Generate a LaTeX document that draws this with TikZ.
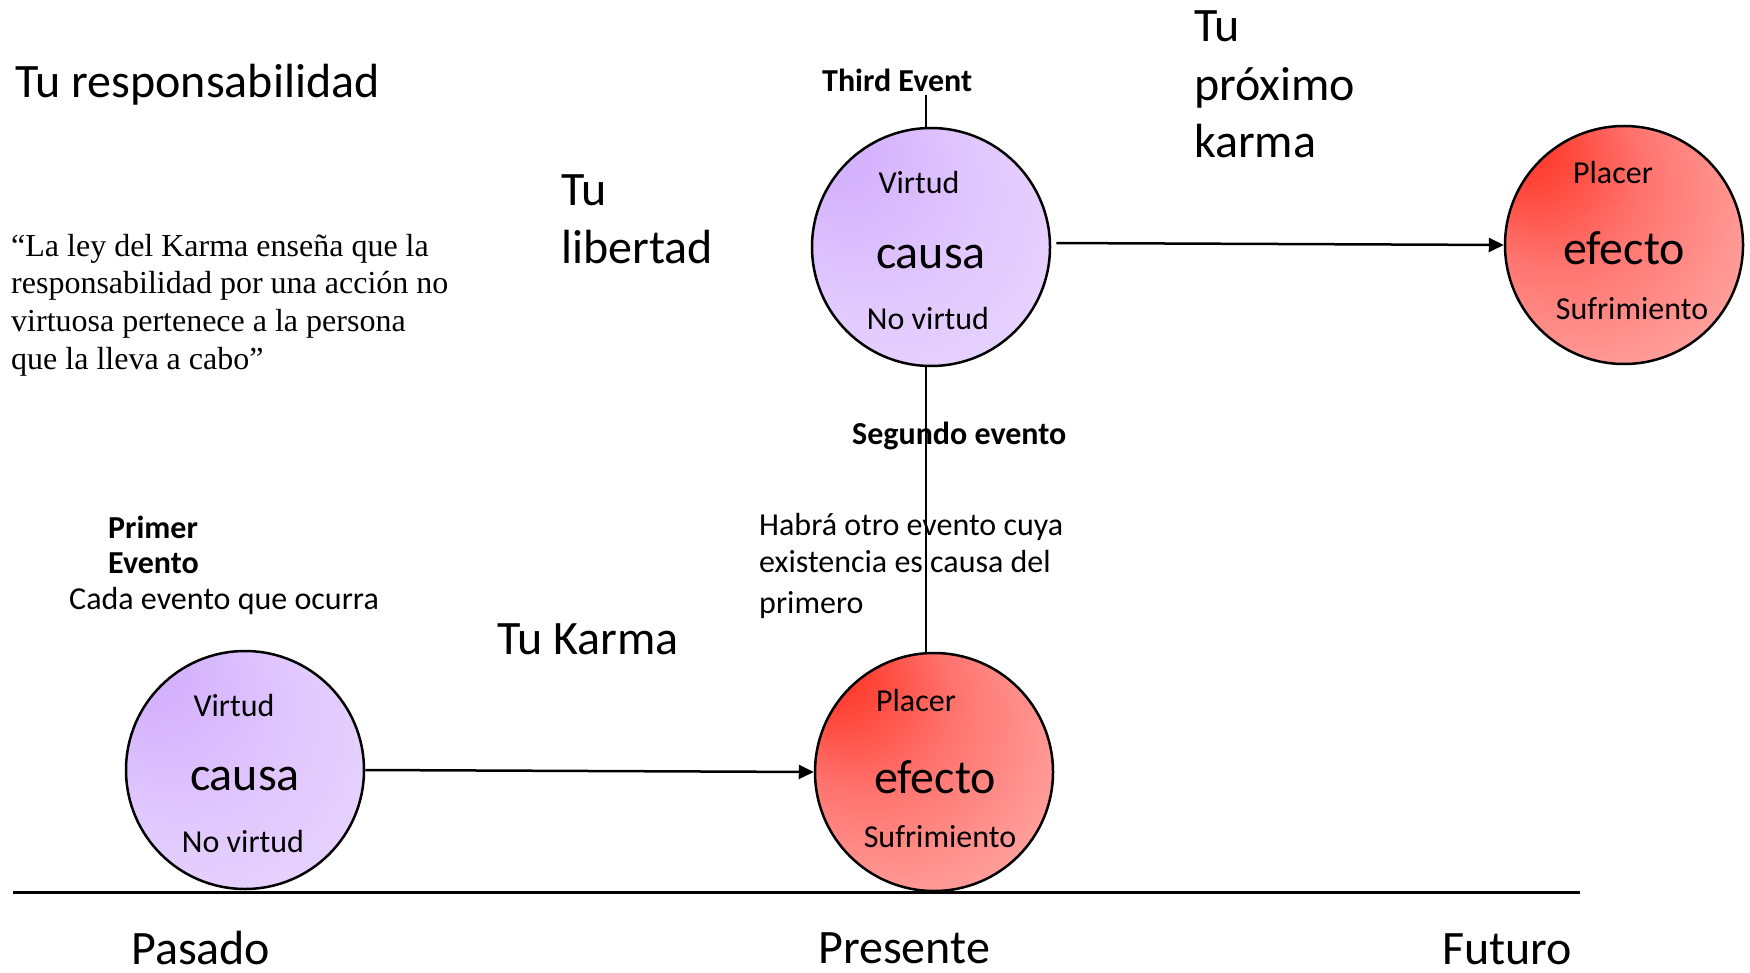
\documentclass[tikz,border=0pt]{standalone}
\usepackage{fontspec}
\setmainfont{Carlito}
\newfontfamily\quotefont{Liberation Serif}
\usetikzlibrary{arrows.meta}
\definecolor{redA}{RGB}{255,40,22}
\definecolor{redB}{RGB}{255,115,110}
\definecolor{redC}{RGB}{255,198,196}
\definecolor{purA}{RGB}{208,170,252}
\definecolor{purB}{RGB}{225,200,254}
\definecolor{purC}{RGB}{238,222,254}
\pgfdeclareradialshading{redball}{\pgfpoint{-24bp}{24bp}}{color(0bp)=(redA); color(19bp)=(redB); color(50bp)=(redC)}
\pgfdeclareradialshading{purball}{\pgfpoint{-24bp}{24bp}}{color(0bp)=(purA); color(24bp)=(purB); color(50bp)=(purC)}
\begin{document}
\begin{tikzpicture}[x=1pt,y=-1pt,
  big/.style={font=\fontsize{48}{58}\selectfont, inner sep=0pt, anchor=base west},
  bigc/.style={font=\fontsize{48}{58}\selectfont, inner sep=0pt, anchor=base},
  small/.style={font=\fontsize{32}{38}\selectfont, inner sep=0pt, anchor=base west},
  smallc/.style={font=\fontsize{32}{38}\selectfont, inner sep=0pt, anchor=base},
  smallb/.style={font=\fontsize{32}{38}\selectfont\bfseries, inner sep=0pt, anchor=base west},
  quote/.style={font=\quotefont\fontsize{32}{38}\selectfont, inner sep=0pt, anchor=base west},
  ball/.style={circle, draw, line width=2.5pt, minimum size=238pt, inner sep=0pt},
  causaball/.style={ball, shading=purball},
  efectoball/.style={ball, shading=redball},
  conn/.style={line width=2.5pt},
  arr/.style={line width=2.5pt, -{Triangle[length=15pt,width=14pt]}}
]
\useasboundingbox (0,0) rectangle (1750,973);

% circles
\node[causaball] (lc) at (245,770) {};
\node[efectoball] (be) at (934,772) {};
\node[causaball] (tc) at (931,247) {};
\node[efectoball] (re) at (1624,245) {};

% circle texts
\node[smallc] (lcv) at (234,716) {Virtud};
\node[bigc] (lcc) at (245,790) {causa};
\node[smallc] (lcn) at (243,852) {No virtud};

\node[smallc] (bep) at (916,711) {Placer};
\node[bigc] (bee) at (935,793) {efecto};
\node[smallc] (bes) at (940,847) {Sufrimiento};

\node[smallc] (tcv) at (919,194) {Virtud};
\node[bigc] (tcc) at (931,269) {causa};
\node[smallc] (tcn) at (928,330) {No virtud};

\node[smallc] (rep) at (1613,184) {Placer};
\node[bigc] (ree) at (1624,265) {efecto};
\node[smallc] (res) at (1632,320) {Sufrimiento};

% baseline
\coordinate (bl) at (13,892);
\coordinate (br) at (1580,892);
\draw[line width=3pt] (bl) -- (br);

% vertical connector
\coordinate (tetop) at (926,95);
\draw[conn] (tetop) -- (tetop |- tc.north);
\draw[conn] (tc.south -| tetop) -- (be.north -| tetop);

% arrows
\draw[arr] (lc.east) -- (be.west);
\draw[arr, shorten <=5pt] ([yshift=4pt]tc.east) -- (re.west);

% big labels
\node[big] (resp) at (15,98) {Tu responsabilidad};
\node[big] (lib1) at (561,206) {Tu};
\node[big] (lib2) at (561,264) {libertad};
\node[big] (prox1) at (1194,42) {Tu};
\node[big] (prox2) at (1194,101) {próximo};
\node[big] (prox3) at (1194,158) {karma};
\node[big] (karma) at (497,654) {Tu Karma};
\node[big] (pas) at (131,964) {Pasado};
\node[big] (pre) at (818,963) {Presente};
\node[big] (fut) at (1442,964) {Futuro};

% small labels
\node[smallb] (third) at (822,92) {Third Event};
\node[smallb] (seg) at (852,444) {Segundo evento};
\node[small] (hab1) at (759,535) {Habrá otro evento cuya};
\node[small] (hab2) at (759,572.5) {existencia es causa del};
\node[small] (hab3) at (759,613) {primero};
\node[smallb] (prim1) at (108,538) {Primer};
\node[smallb] (prim2) at (108,573) {Evento};
\node[small] (cada) at (69,609) {Cada evento que ocurra};

% quote
\node[quote] (q1) at (11,256.5) {“La ley del Karma enseña que la};
\node[quote] (q2) at (11,294) {responsabilidad por una acción no};
\node[quote] (q3) at (11,332) {virtuosa pertenece a la persona};
\node[quote] (q4) at (11,369.5) {que la lleva a cabo”};
\end{tikzpicture}
\end{document}
